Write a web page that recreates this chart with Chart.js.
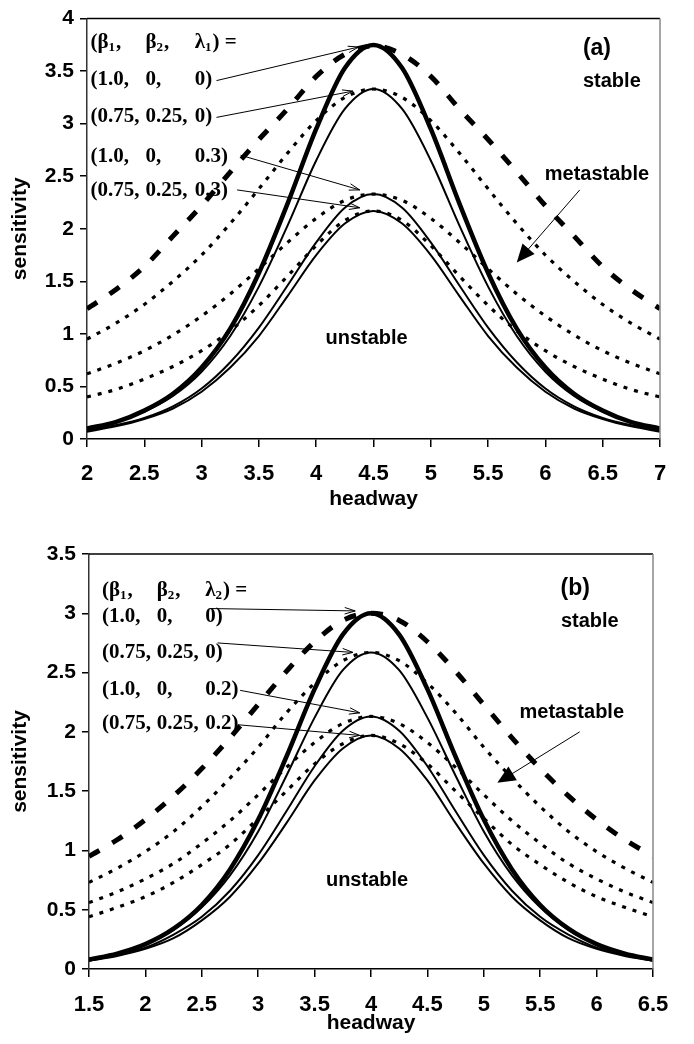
<!DOCTYPE html>
<html>
<head>
<meta charset="utf-8">
<script src="https://cdn.jsdelivr.net/npm/chart.js@4.4.1/dist/chart.umd.min.js"></script>
<style>
  html, body { margin: 0; padding: 0; background: #fff; }
  #wrap { position: relative; width: 694px; height: 1044px; }
  canvas { position: absolute; left: 0; }
  #graficoA { top: 0; }
  #graficoB { top: 520px; }
</style>
</head>
<body>
<div id="wrap">
  <canvas id="graficoA" width="694" height="520" style="width:694px;height:520px"></canvas>
  <canvas id="graficoB" width="694" height="524" style="width:694px;height:524px"></canvas>
</div>
<script>
// ---- dados do painel (a) ----
const headwayA = [2, 2.25, 2.5, 2.75, 3, 3.25, 3.5, 3.75, 4, 4.25, 4.5, 4.75, 5, 5.25, 5.5, 5.75, 6, 6.25, 6.5, 6.75, 7];
const neutraA1 = [0.10, 0.16, 0.27, 0.43, 0.68, 1.05, 1.58, 2.24, 2.95, 3.53, 3.75, 3.53, 2.95, 2.24, 1.58, 1.05, 0.68, 0.43, 0.27, 0.16, 0.10];
const neutraA2 = [0.10, 0.16, 0.26, 0.41, 0.64, 0.98, 1.45, 2.03, 2.65, 3.14, 3.33, 3.14, 2.65, 2.03, 1.45, 0.98, 0.64, 0.41, 0.26, 0.16, 0.10];
const neutraA3 = [0.08, 0.13, 0.20, 0.31, 0.48, 0.73, 1.06, 1.46, 1.87, 2.20, 2.33, 2.20, 1.87, 1.46, 1.06, 0.73, 0.48, 0.31, 0.20, 0.13, 0.08];
const neutraA4 = [0.07, 0.12, 0.19, 0.29, 0.45, 0.68, 0.98, 1.36, 1.75, 2.05, 2.17, 2.05, 1.75, 1.36, 0.98, 0.68, 0.45, 0.29, 0.19, 0.12, 0.07];
const coexA1 = [1.24, 1.42, 1.64, 1.93, 2.22, 2.54, 2.85, 3.14, 3.45, 3.66, 3.74, 3.66, 3.45, 3.14, 2.85, 2.54, 2.22, 1.93, 1.64, 1.42, 1.24];
const coexA2 = [0.95, 1.10, 1.28, 1.50, 1.75, 2.05, 2.38, 2.72, 3.03, 3.25, 3.33, 3.25, 3.03, 2.72, 2.38, 2.05, 1.75, 1.50, 1.28, 1.10, 0.95];
const coexA3 = [0.62, 0.72, 0.84, 0.99, 1.17, 1.38, 1.62, 1.87, 2.10, 2.27, 2.33, 2.27, 2.10, 1.87, 1.62, 1.38, 1.17, 0.99, 0.84, 0.72, 0.62];
const coexA4 = [0.40, 0.47, 0.57, 0.69, 0.84, 1.03, 1.27, 1.55, 1.84, 2.08, 2.17, 2.08, 1.84, 1.55, 1.27, 1.03, 0.84, 0.69, 0.57, 0.47, 0.40];
const xTicksA = [2, 2.5, 3, 3.5, 4, 4.5, 5, 5.5, 6, 6.5, 7];
const xLabelsA = ['2', '2.5', '3', '3.5', '4', '4.5', '5', '5.5', '6', '6.5', '7'];
const yTicksA = [0, 0.5, 1, 1.5, 2, 2.5, 3, 3.5, 4];
const yLabelsA = ['0', '0.5', '1', '1.5', '2', '2.5', '3', '3.5', '4'];
const linhasA = [['(1.0,', '0,', '0)'], ['(0.75,', '0.25,', '0)'], ['(1.0,', '0,', '0.3)'], ['(0.75,', '0.25,', '0.3)']];

// ---- dados do painel (b) ----
const headwayB = [1.5, 1.75, 2, 2.25, 2.5, 2.75, 3, 3.25, 3.5, 3.75, 4, 4.25, 4.5, 4.75, 5, 5.25, 5.5, 5.75, 6, 6.25, 6.5];
const neutraB1 = [0.08, 0.13, 0.21, 0.34, 0.54, 0.84, 1.26, 1.79, 2.36, 2.82, 3.00, 2.82, 2.36, 1.79, 1.26, 0.84, 0.54, 0.34, 0.21, 0.13, 0.08];
const neutraB2 = [0.08, 0.13, 0.21, 0.33, 0.52, 0.79, 1.16, 1.63, 2.12, 2.52, 2.67, 2.52, 2.12, 1.63, 1.16, 0.79, 0.52, 0.33, 0.21, 0.13, 0.08];
const neutraB3 = [0.07, 0.12, 0.18, 0.29, 0.44, 0.66, 0.96, 1.33, 1.71, 2.01, 2.13, 2.01, 1.71, 1.33, 0.96, 0.66, 0.44, 0.29, 0.18, 0.12, 0.07];
const neutraB4 = [0.07, 0.11, 0.17, 0.26, 0.41, 0.61, 0.89, 1.23, 1.59, 1.86, 1.97, 1.86, 1.59, 1.23, 0.89, 0.61, 0.41, 0.26, 0.17, 0.11, 0.07];
const coexB1 = [0.95, 1.09, 1.26, 1.46, 1.69, 1.95, 2.23, 2.51, 2.76, 2.94, 3.00, 2.94, 2.76, 2.51, 2.23, 1.95, 1.69, 1.46, 1.26, 1.09, 0.95];
const coexB2 = [0.73, 0.85, 0.99, 1.16, 1.37, 1.61, 1.87, 2.16, 2.41, 2.60, 2.67, 2.60, 2.41, 2.16, 1.87, 1.61, 1.37, 1.16, 0.99, 0.85, 0.73];
const coexB3 = [0.56, 0.65, 0.76, 0.89, 1.06, 1.25, 1.47, 1.70, 1.91, 2.07, 2.13, 2.07, 1.91, 1.70, 1.47, 1.25, 1.06, 0.89, 0.76, 0.65, 0.56];
const coexB4 = [0.44, 0.52, 0.61, 0.73, 0.88, 1.05, 1.27, 1.50, 1.73, 1.90, 1.97, 1.90, 1.73, 1.50, 1.27, 1.05, 0.88, 0.73, 0.61, 0.52, 0.44];
const xTicksB = [1.5, 2, 2.5, 3, 3.5, 4, 4.5, 5, 5.5, 6, 6.5];
const xLabelsB = ['1.5', '2', '2.5', '3', '3.5', '4', '4.5', '5', '5.5', '6', '6.5'];
const yTicksB = [0, 0.5, 1, 1.5, 2, 2.5, 3, 3.5];
const yLabelsB = ['0', '0.5', '1', '1.5', '2', '2.5', '3', '3.5'];
const linhasB = [['(1.0,', '0,', '0)'], ['(0.75,', '0.25,', '0)'], ['(1.0,', '0,', '0.2)'], ['(0.75,', '0.25,', '0.2)']];

Chart.defaults.font.family = '"Liberation Sans", Arial, sans-serif';
Chart.defaults.font.weight = 'bold';
Chart.defaults.color = '#000';

const pontos = (xs, ys) => xs.map((x, i) => ({ x: x, y: ys[i] }));

// estilos das curvas
function serie(xs, ys, tipo) {
  const base = { data: pontos(xs, ys), borderColor: '#000', pointRadius: 0, fill: false,
                 showLine: true, cubicInterpolationMode: 'monotone', borderCapStyle: 'butt' };
  if (tipo === 'grossa') return Object.assign(base, { borderWidth: 4.5 });
  if (tipo === 'fina') return Object.assign(base, { borderWidth: 2 });
  if (tipo === 'tracejada') return Object.assign(base, { borderWidth: 5, borderDash: [12, 15] });
  return Object.assign(base, { borderWidth: 3.2, borderDash: [4, 7] }); // pontilhada
}

// moldura superior e direita
const moldura = {
  id: 'moldura',
  afterDraw(chart) {
    const { ctx, chartArea: a } = chart;
    ctx.save();
    ctx.strokeStyle = '#000'; ctx.lineWidth = 1.5;
    ctx.beginPath(); ctx.moveTo(a.left, a.top); ctx.lineTo(a.right, a.top); ctx.stroke();
    ctx.strokeStyle = '#888'; ctx.lineWidth = 1.5;
    ctx.beginPath(); ctx.moveTo(a.right, a.top); ctx.lineTo(a.right, a.bottom); ctx.stroke();
    ctx.restore();
  }
};

function pontaAberta(ctx, x0, y0, x1, y1) {
  const ang = Math.atan2(y1 - y0, x1 - x0), L = 11;
  ctx.beginPath();
  ctx.moveTo(x1 - L * Math.cos(ang - 0.3), y1 - L * Math.sin(ang - 0.3));
  ctx.lineTo(x1, y1);
  ctx.lineTo(x1 - L * Math.cos(ang + 0.3), y1 - L * Math.sin(ang + 0.3));
  ctx.stroke();
}

// textos e setas dentro do gráfico
const notas = {
  id: 'notas',
  afterDatasetsDraw(chart, args, o) {
    const { ctx, scales: { x, y } } = chart;
    const px = v => x.getPixelForValue(v), py = v => y.getPixelForValue(v);
    ctx.save();
    ctx.fillStyle = '#000'; ctx.strokeStyle = '#000';
    ctx.textBaseline = 'middle'; ctx.textAlign = 'left';

    // cabeçalho (β1, β2, λn) =
    const serif = 'bold 21px "Liberation Serif", "Times New Roman", serif';
    const serifSub = 'bold 13px "Liberation Serif", "Times New Roman", serif';
    const cab = [[['(β', 0], ['1', 1], [',', 0]], [['β', 0], ['2', 1], [',', 0]], [['λ', 0], [o.indice, 1], [') =', 0]]];
    cab.forEach((partes, i) => {
      let cx = px(o.colunas[i]);
      const cy = py(o.linhasY[0]);
      partes.forEach(([t, sub]) => {
        ctx.font = sub ? serifSub : serif;
        ctx.fillText(t, cx, sub ? cy + 5 : cy);
        cx += ctx.measureText(t).width + (sub ? 1 : 0);
      });
    });
    ctx.font = serif;
    o.linhas.forEach((lin, j) => {
      lin.forEach((t, i) => ctx.fillText(t, px(o.colunas[i]), py(o.linhasY[j + 1])));
    });

    // setas finas até os picos
    ctx.lineWidth = 1;
    o.setas.forEach(s => {
      const x0 = px(s[0]), y0 = py(s[1]), x1 = px(s[2]), y1 = py(s[3]);
      ctx.beginPath(); ctx.moveTo(x0, y0); ctx.lineTo(x1, y1); ctx.stroke();
      pontaAberta(ctx, x0, y0, x1, y1);
    });

    // seta do "metastable"
    const m = o.seta;
    const mx0 = px(m[0]), my0 = py(m[1]), mx1 = px(m[2]), my1 = py(m[3]);
    const ang = Math.atan2(my1 - my0, mx1 - mx0);
    ctx.beginPath(); ctx.moveTo(mx0, my0); ctx.lineTo(mx1 - 14 * Math.cos(ang), my1 - 14 * Math.sin(ang)); ctx.stroke();
    ctx.beginPath();
    ctx.moveTo(mx1, my1);
    ctx.lineTo(mx1 - 18 * Math.cos(ang) + 8 * Math.sin(ang), my1 - 18 * Math.sin(ang) - 8 * Math.cos(ang));
    ctx.lineTo(mx1 - 18 * Math.cos(ang) - 8 * Math.sin(ang), my1 - 18 * Math.sin(ang) + 8 * Math.cos(ang));
    ctx.closePath(); ctx.fill();

    // rótulos
    ctx.textAlign = 'center';
    o.textos.forEach(([t, tx, ty, tam]) => {
      ctx.font = 'bold ' + tam + 'px "Liberation Sans", Arial, sans-serif';
      ctx.fillText(t, px(tx), py(ty));
    });
    ctx.restore();
  }
};

function eixos(xMin, xMax, xTicks, xLabels, yMax, yTicks, yLabels, largura, altura, padX) {
  return {
    x: {
      type: 'linear', min: xMin, max: xMax,
      afterBuildTicks: s => { s.ticks = xTicks.map(v => ({ value: v })); },
      afterFit: s => { s.height = altura; },
      ticks: { color: '#000', font: { size: 22, weight: 'bold' }, padding: padX, maxRotation: 0, autoSkip: false,
               callback: (v, i) => xLabels[i] },
      grid: { drawOnChartArea: false, drawTicks: true, tickLength: 8, color: '#000', tickColor: '#000', lineWidth: 1.5 },
      border: { display: true, color: '#000', width: 1.5 },
      title: { display: true, text: 'headway', color: '#000', font: { size: 21, weight: 'bold' }, padding: { top: 0, bottom: 8 } }
    },
    y: {
      type: 'linear', min: 0, max: yMax,
      afterBuildTicks: s => { s.ticks = yTicks.map(v => ({ value: v })); },
      afterFit: s => { s.width = largura; },
      ticks: { color: '#000', font: { size: 21, weight: 'bold' }, padding: 6, autoSkip: false,
               callback: (v, i) => yLabels[i] },
      grid: { drawOnChartArea: false, drawTicks: true, tickLength: 7, color: '#000', tickColor: '#000', lineWidth: 1.5 },
      border: { display: true, color: '#333', width: 1.5 },
      title: { display: true, text: 'sensitivity', color: '#000', font: { size: 21, weight: 'bold' }, padding: { top: 8, bottom: 0 } }
    }
  };
}

const graficoA = new Chart(document.getElementById('graficoA'), {
  type: 'scatter',
  data: { datasets: [
    serie(headwayA, coexA1, 'tracejada'),
    serie(headwayA, coexA2, 'pontilhada'),
    serie(headwayA, coexA3, 'pontilhada'),
    serie(headwayA, coexA4, 'pontilhada'),
    serie(headwayA, neutraA1, 'grossa'),
    serie(headwayA, neutraA2, 'fina'),
    serie(headwayA, neutraA3, 'fina'),
    serie(headwayA, neutraA4, 'fina')
  ] },
  options: {
    responsive: false, animation: false, devicePixelRatio: 1,
    layout: { padding: { top: 13, right: 34, left: 0, bottom: 0 } },
    scales: eixos(2, 7, xTicksA, xLabelsA, 4, yTicksA, yLabelsA, 87, 81, 14),
    plugins: {
      legend: { display: false }, tooltip: { enabled: false },
      notas: {
        indice: '1', linhas: linhasA,
        colunas: [2.03, 2.51, 2.94],
        linhasY: [3.77, 3.42, 3.07, 2.69, 2.36],
        setas: [[3.13, 3.41, 4.37, 3.73], [3.13, 3.06, 4.32, 3.31], [3.34, 2.70, 4.38, 2.37], [3.31, 2.37, 4.38, 2.20]],
        seta: [6.30, 2.37, 5.75, 1.68],
        textos: [['(a)', 6.45, 3.71, 23], ['stable', 6.58, 3.40, 20], ['metastable', 6.45, 2.52, 20], ['unstable', 4.44, 0.96, 20]]
      }
    }
  },
  plugins: [moldura, notas]
});

const graficoB = new Chart(document.getElementById('graficoB'), {
  type: 'scatter',
  data: { datasets: [
    serie(headwayB, coexB1, 'tracejada'),
    serie(headwayB, coexB2, 'pontilhada'),
    serie(headwayB, coexB3, 'pontilhada'),
    serie(headwayB, coexB4, 'pontilhada'),
    serie(headwayB, neutraB1, 'grossa'),
    serie(headwayB, neutraB2, 'fina'),
    serie(headwayB, neutraB3, 'fina'),
    serie(headwayB, neutraB4, 'fina')
  ] },
  options: {
    responsive: false, animation: false, devicePixelRatio: 1,
    layout: { padding: { top: 34, right: 41, left: 0, bottom: 0 } },
    scales: eixos(1.5, 6.5, xTicksB, xLabelsB, 3.5, yTicksB, yLabelsB, 89, 75, 15),
    plugins: {
      legend: { display: false }, tooltip: { enabled: false },
      notas: {
        indice: '2', linhas: linhasB,
        colunas: [1.615, 2.10, 2.53],
        linhasY: [3.19, 2.97, 2.67, 2.36, 2.07],
        setas: [[2.57, 3.04, 3.86, 3.02], [2.64, 2.75, 3.84, 2.67], [2.84, 2.35, 3.90, 2.16], [2.82, 2.06, 3.90, 1.97]],
        seta: [5.85, 2.00, 5.12, 1.57],
        textos: [['(b)', 5.81, 3.21, 23], ['stable', 5.94, 2.93, 20], ['metastable', 5.78, 2.16, 20], ['unstable', 3.965, 0.75, 20]]
      }
    }
  },
  plugins: [moldura, notas]
});
</script>
</body>
</html>
